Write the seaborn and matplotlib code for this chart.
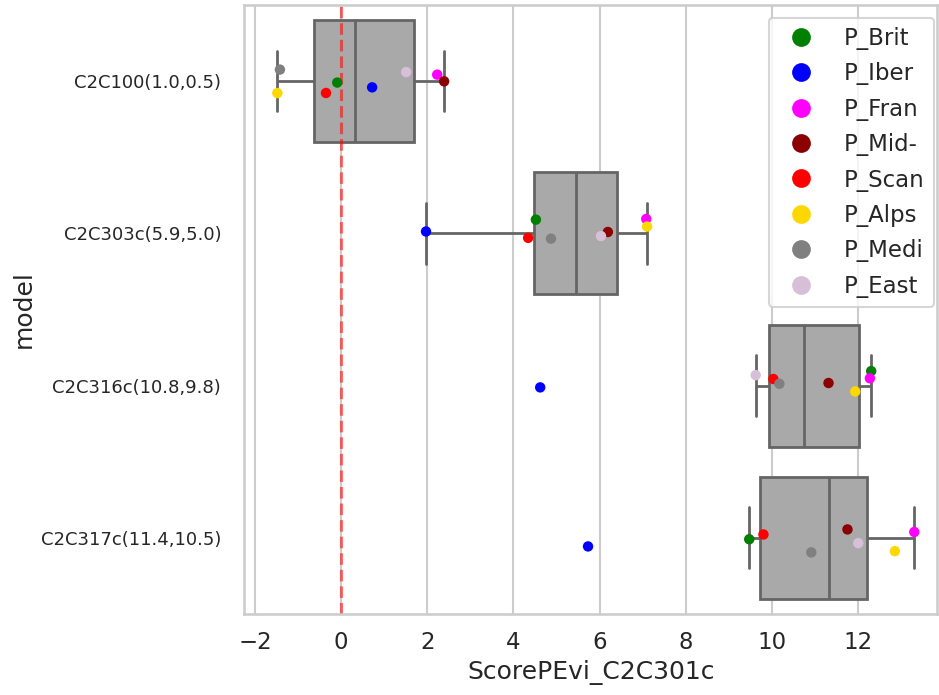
import numpy as np
import pandas as pd
import matplotlib
matplotlib.use("Agg")
import matplotlib.pyplot as plt
import seaborn as sns

models = ["C2C100(1.0,0.5)", "C2C303c(5.9,5.0)", "C2C316c(10.8,9.8)", "C2C317c(11.4,10.5)"]
regions = ["P_Brit", "P_Iber", "P_Fran", "P_Mid-", "P_Scan", "P_Alps", "P_Medi", "P_East"]
region_colors = ["green", "blue", "magenta", "darkred", "red", "gold", "gray", "thistle"]

scores_c2c100 = [-0.09, 0.72, 2.23, 2.39, -0.35, -1.48, -1.42, 1.51]
scores_c2c303c = [4.52, 1.97, 7.08, 6.19, 4.34, 7.10, 4.87, 6.03]
scores_c2c316c = [12.30, 4.62, 12.27, 11.31, 10.03, 11.93, 10.17, 9.62]
scores_c2c317c = [9.47, 5.73, 13.30, 11.75, 9.80, 12.85, 10.91, 12.00]

all_scores = [scores_c2c100, scores_c2c303c, scores_c2c316c, scores_c2c317c]
rows = []
for m, sc in zip(models, all_scores):
    for r, v in zip(regions, sc):
        rows.append({"model": m, "region": r, "ScorePEvi_C2C301c": v})
df = pd.DataFrame(rows)

sns.set_theme(style="whitegrid", context="talk")
plt.rcParams["font.family"] = ["DejaVu Sans"]

fig, ax = plt.subplots(figsize=(9.39, 6.95), dpi=100)
fig.subplots_adjust(left=0.26, right=0.998, top=0.993, bottom=0.1165)

sns.boxplot(data=df, x="ScorePEvi_C2C301c", y="model", order=models,
            color="darkgray", showfliers=False, linewidth=2, ax=ax)
ax.axvline(0, color="red", linestyle="--", alpha=0.55)
np.random.seed(3)
sns.stripplot(data=df, x="ScorePEvi_C2C301c", y="model", order=models,
              hue="region", hue_order=regions, palette=region_colors,
              size=7.5, jitter=True, ax=ax, zorder=3)

ax.set_xlim(-2.25, 13.83)
ax.tick_params(axis="y", labelsize=13, pad=7.5)
sns.move_legend(ax, "upper right", bbox_to_anchor=(0.9957, 0.9787), title=None,
                markerscale=1.8, handletextpad=0.9, labelspacing=0.54,
                borderaxespad=0)

fig.savefig("out.png", dpi=100)
